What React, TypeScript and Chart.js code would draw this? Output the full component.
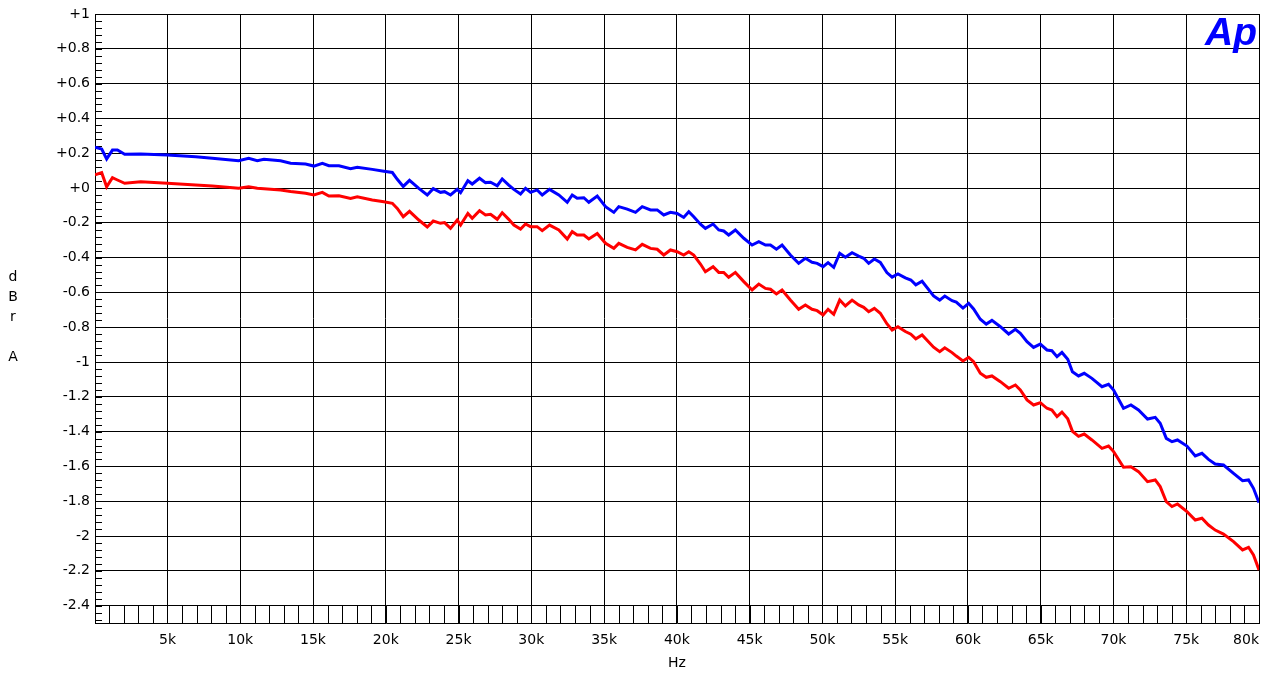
import React, { useEffect, useRef } from "react";
import { Chart, registerables } from "chart.js";

Chart.register(...registerables);

const freqKHz = [
  0.02, 0.48, 0.82, 1.22, 1.56, 2.06, 3.16, 4.99, 6.94, 8.08,
  9.89, 10.58, 11.17, 11.63, 12.77, 13.46, 14.49, 15.06, 15.64, 16.09,
  16.78, 17.58, 18.04, 19.07, 19.87, 20.45, 20.79, 21.2, 21.63, 22.27,
  22.85, 23.26, 23.76, 24.04, 24.45, 24.91, 25.14, 25.64, 25.94, 26.44,
  26.85, 27.2, 27.66, 28.0, 28.45, 28.8, 29.26, 29.6, 29.95, 30.4,
  30.75, 31.25, 31.89, 32.47, 32.81, 33.15, 33.61, 33.95, 34.53, 35.1,
  35.67, 36.01, 36.59, 37.16, 37.62, 38.19, 38.65, 39.1, 39.56, 40.02,
  40.47, 40.82, 41.16, 41.62, 41.96, 42.49, 42.88, 43.22, 43.56, 44.02,
  44.6, 45.17, 45.63, 46.09, 46.43, 46.84, 47.23, 47.8, 48.37, 48.83,
  49.29, 49.64, 50.05, 50.39, 50.78, 51.19, 51.58, 52.04, 52.49, 52.84,
  53.18, 53.57, 53.98, 54.43, 54.79, 55.19, 55.7, 56.08, 56.42, 56.85,
  57.64, 58.06, 58.41, 58.91, 59.2, 59.66, 60.05, 60.39, 60.85, 61.26,
  61.65, 62.23, 62.8, 63.26, 63.6, 64.06, 64.51, 64.97, 65.43, 65.77,
  66.12, 66.46, 66.86, 67.18, 67.6, 67.99, 68.52, 69.21, 69.66, 70.01,
  70.69, 71.2, 71.72, 72.34, 72.87, 73.21, 73.63, 74.02, 74.4, 75.05,
  75.62, 76.08, 76.53, 76.99, 77.56, 78.25, 78.87, 79.28, 79.62, 80.0,
];

const blueDb = [
  0.234, 0.224, 0.167, 0.218, 0.218, 0.194, 0.195, 0.19, 0.18, 0.171,
  0.157, 0.171, 0.157, 0.165, 0.157, 0.142, 0.138, 0.126, 0.142, 0.128,
  0.128, 0.111, 0.119, 0.107, 0.096, 0.089, 0.05, 0.009, 0.044, -0.002,
  -0.04, -0.004, -0.025, -0.021, -0.04, -0.008, -0.027, 0.042, 0.023, 0.056,
  0.031, 0.033, 0.013, 0.052, 0.017, -0.008, -0.034, -0.002, -0.025, -0.011,
  -0.04, -0.008, -0.04, -0.082, -0.04, -0.059, -0.056, -0.082, -0.046, -0.107,
  -0.14, -0.107, -0.121, -0.14, -0.107, -0.126, -0.126, -0.155, -0.14, -0.146,
  -0.169, -0.136, -0.165, -0.208, -0.232, -0.207, -0.241, -0.247, -0.27, -0.241,
  -0.289, -0.328, -0.309, -0.328, -0.328, -0.352, -0.328, -0.385, -0.433, -0.404,
  -0.427, -0.433, -0.452, -0.429, -0.456, -0.375, -0.398, -0.372, -0.391, -0.404,
  -0.433, -0.408, -0.428, -0.486, -0.512, -0.494, -0.516, -0.529, -0.557, -0.536,
  -0.62, -0.644, -0.621, -0.648, -0.656, -0.69, -0.663, -0.695, -0.754, -0.782,
  -0.761, -0.797, -0.839, -0.812, -0.835, -0.883, -0.916, -0.897, -0.931, -0.935,
  -0.969, -0.945, -0.984, -1.056, -1.08, -1.065, -1.094, -1.142, -1.128, -1.161,
  -1.266, -1.247, -1.276, -1.328, -1.318, -1.352, -1.439, -1.458, -1.448, -1.483,
  -1.54, -1.525, -1.56, -1.586, -1.592, -1.64, -1.682, -1.678, -1.726, -1.808,
];

const redDb = [
  0.075, 0.088, 0.007, 0.059, 0.046, 0.027, 0.036, 0.027, 0.017, 0.012,
  -0.002, 0.007, -0.002, -0.004, -0.011, -0.02, -0.03, -0.04, -0.025, -0.046,
  -0.045, -0.06, -0.05, -0.069, -0.079, -0.088, -0.117, -0.165, -0.134, -0.184,
  -0.224, -0.19, -0.203, -0.199, -0.232, -0.184, -0.213, -0.146, -0.174, -0.13,
  -0.155, -0.151, -0.18, -0.142, -0.18, -0.213, -0.236, -0.207, -0.222, -0.222,
  -0.245, -0.213, -0.241, -0.293, -0.251, -0.27, -0.27, -0.293, -0.261, -0.318,
  -0.347, -0.318, -0.341, -0.356, -0.324, -0.347, -0.352, -0.385, -0.356, -0.366,
  -0.385, -0.366, -0.385, -0.437, -0.481, -0.452, -0.485, -0.485, -0.513, -0.485,
  -0.538, -0.586, -0.552, -0.577, -0.582, -0.609, -0.586, -0.644, -0.697, -0.672,
  -0.697, -0.705, -0.73, -0.697, -0.726, -0.644, -0.678, -0.644, -0.672, -0.686,
  -0.711, -0.692, -0.72, -0.78, -0.816, -0.797, -0.825, -0.84, -0.867, -0.845,
  -0.915, -0.941, -0.918, -0.946, -0.966, -0.994, -0.973, -0.998, -1.065, -1.088,
  -1.08, -1.113, -1.151, -1.132, -1.161, -1.218, -1.247, -1.234, -1.266, -1.276,
  -1.314, -1.288, -1.327, -1.398, -1.427, -1.414, -1.448, -1.496, -1.483, -1.515,
  -1.605, -1.602, -1.63, -1.688, -1.678, -1.716, -1.803, -1.831, -1.816, -1.86,
  -1.908, -1.898, -1.937, -1.966, -1.989, -2.032, -2.08, -2.065, -2.109, -2.195,
];

const xMin = 0.02;
const xMax = 80;
const xTickValues = [xMin, 5, 10, 15, 20, 25, 30, 35, 40, 45, 50, 55, 60, 65, 70, 75, 80];
const xTickLabels = ["", "5k", "10k", "15k", "20k", "25k", "30k", "35k", "40k", "45k", "50k", "55k", "60k", "65k", "70k", "75k", "80k"];

const yMin = -2.5;
const yMax = 1;
const yTickValues = [1, 0.8, 0.6, 0.4, 0.2, 0, -0.2, -0.4, -0.6, -0.8, -1, -1.2, -1.4, -1.6, -1.8, -2, -2.2, -2.4];
const yTickLabels = ["+1", "+0.8", "+0.6", "+0.4", "+0.2", "+0", "-0.2", "-0.4", "-0.6", "-0.8", "-1", "-1.2", "-1.4", "-1.6", "-1.8", "-2", "-2.2", "-2.4"];

const yTitleLines = ["d", "B", "r", "", "A"];
const xTitle = "Hz";
const FONT = "'DejaVu Sans', 'Liberation Sans', Arial, sans-serif";
const LOGO_FONT = "'Liberation Sans', Arial, sans-serif";

const decorPlugin = {
  id: "decor",
  beforeDatasetsDraw(chart: any) {
    const { ctx, chartArea, scales } = chart;
    const xs = scales.x;
    const ys = scales.y;
    ctx.save();
    ctx.strokeStyle = "#000";
    ctx.lineWidth = 1;
    ctx.beginPath();
    for (let k = 0; k <= 87; k++) {
      const v = yMax - k * 0.04;
      if (v < yMin - 1e-9) break;
      const py = Math.round(ys.getPixelForValue(v)) + 0.5;
      ctx.moveTo(chartArea.left, py);
      ctx.lineTo(chartArea.left + 7, py);
    }
    const yb = ys.getPixelForValue(yMin);
    const yt = ys.getPixelForValue(-2.4);
    for (let f = 1; f < xMax; f++) {
      const px = Math.round(xs.getPixelForValue(f)) + 0.5;
      ctx.moveTo(px, yb);
      ctx.lineTo(px, yt);
    }
    ctx.stroke();
    ctx.restore();
  },
  afterDraw(chart: any) {
    const { ctx, chartArea } = chart;
    ctx.save();
    ctx.fillStyle = "#000";
    ctx.font = `14px ${FONT}`;
    ctx.textAlign = "center";
    ctx.textBaseline = "middle";
    yTitleLines.forEach((t, i) => {
      if (t) ctx.fillText(t, 13, 277 + i * 20);
    });
    ctx.fillText(xTitle, (chartArea.left + chartArea.right) / 2, 663);
    ctx.fillStyle = "#0000FF";
    ctx.font = `bold italic 39px ${LOGO_FONT}`;
    ctx.textAlign = "right";
    ctx.textBaseline = "alphabetic";
    ctx.fillText("Ap", chartArea.right - 2, 45);
    ctx.restore();
  },
};

export default function App() {
  const ref = useRef<HTMLCanvasElement | null>(null);
  useEffect(() => {
    if (!ref.current) return;
    const chart = new Chart(ref.current, {
      type: "line",
      data: {
        datasets: [
          {
            label: "Ch1",
            data: freqKHz.map((f, i) => ({ x: f, y: blueDb[i] })),
            borderColor: "#0000FF",
            borderWidth: 3,
            pointRadius: 0,
            tension: 0,
            fill: false,
          },
          {
            label: "Ch2",
            data: freqKHz.map((f, i) => ({ x: f, y: redDb[i] })),
            borderColor: "#FF0000",
            borderWidth: 3,
            pointRadius: 0,
            tension: 0,
            fill: false,
          },
        ],
      },
      options: {
        animation: false,
        responsive: false,
        events: [],
        layout: { padding: { left: 0, top: 14, right: 10, bottom: 0 } },
        plugins: { legend: { display: false }, tooltip: { enabled: false }, title: { display: false } },
        scales: {
          x: {
            type: "linear",
            min: xMin,
            max: xMax,
            afterBuildTicks: (scale: any) => {
              scale.ticks = xTickValues.map((v) => ({ value: v }));
            },
            afterFit: (scale: any) => {
              scale.height = 52;
            },
            ticks: {
              autoSkip: false,
              maxRotation: 0,
              minRotation: 0,
              align: "inner",
              padding: 9,
              color: "#000",
              font: { size: 14, family: FONT },
              callback: (_v: any, i: number) => xTickLabels[i],
            },
            grid: { color: "#000", lineWidth: 1, drawTicks: false },
            border: { display: true, color: "#000", width: 1 },
          },
          y: {
            type: "linear",
            min: yMin,
            max: yMax,
            afterBuildTicks: (scale: any) => {
              scale.ticks = yTickValues.map((v) => ({ value: v }));
            },
            afterFit: (scale: any) => {
              scale.width = 95;
            },
            ticks: {
              autoSkip: false,
              padding: 5,
              color: "#000",
              font: { size: 14, family: FONT },
              callback: (_v: any, i: number) => yTickLabels[i],
            },
            grid: { color: "#000", lineWidth: 1, drawTicks: false },
            border: { display: true, color: "#000", width: 1 },
          },
        },
      } as any,
      plugins: [decorPlugin],
    });
    return () => chart.destroy();
  }, []);
  return (
    <div style={{ position: "absolute", left: 0, top: 0, width: 1269, height: 675, background: "#fff" }}>
      <canvas ref={ref} width={1269} height={675} style={{ display: "block" }} />
    </div>
  );
}
